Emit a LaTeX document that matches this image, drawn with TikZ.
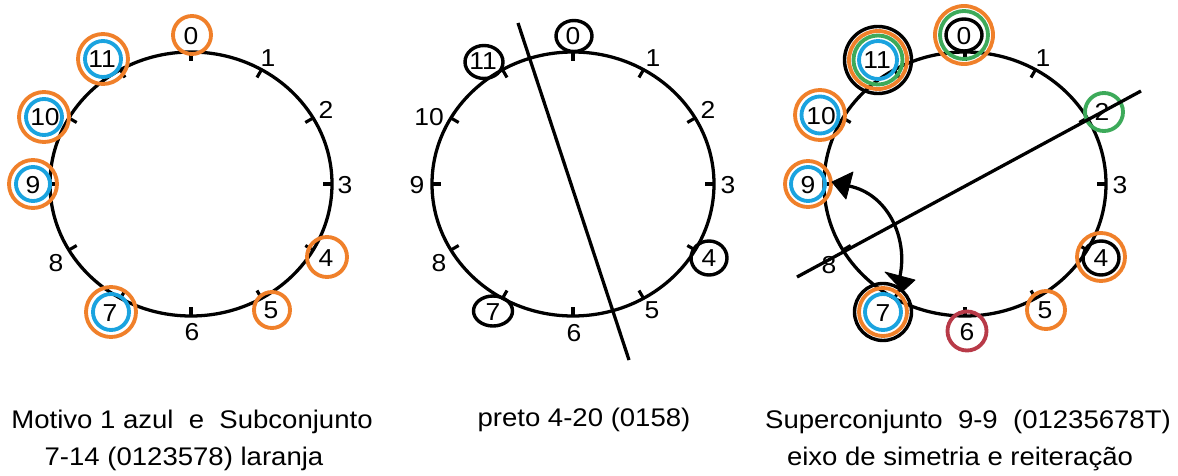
\documentclass[tikz,border=0pt]{standalone}
\usepackage{fontspec}
\setmainfont{Liberation Sans}[FakeStretch=1.08]
\definecolor{orng}{HTML}{F0802A}
\definecolor{blu}{HTML}{1AA3DF}
\definecolor{grn}{HTML}{3DAA5A}
\definecolor{rd}{HTML}{B83A48}
\tikzset{
  ring/.style={line width=1.35mm, draw},
  blkring/.style={line width=1.2mm, draw},
  lab/.style={inner sep=0pt, font=\fontsize{24.5}{28}\selectfont},
  captxt/.style={inner sep=0pt, anchor=base, font=\fontsize{25.5}{30}\selectfont},
  clockline/.style={line width=1.15mm},
  tickmark/.style={line width=1.1mm},
  headfill/.style={fill=black, draw=black, line width=0.8pt, line join=round},
}
\newcommand{\clockface}[3]{% cx cy prefix
  \draw[clockline] (#1,#2) ellipse [x radius=141pt, y radius=132pt];
  \foreach \h in {0,...,11}{
    \draw[tickmark] ({#1+141*sin(30*\h)},{#2-132*cos(30*\h)}) -- ({#1+132*sin(30*\h)},{#2-123*cos(30*\h)});
  }
}
\begin{document}
\begin{tikzpicture}[x=1pt,y=-1pt]
\path[use as bounding box, fill=white] (0,0) rectangle (1178,476);

% ---------- clock 1 ----------
\clockface{191}{184}{a}
\draw[ring, orng] (192,35) circle[radius=19pt];
\draw[ring, orng] (103,59) circle[radius=25pt];
\draw[ring, blu]  (103,59) circle[radius=18pt];
\draw[ring, orng] (44,117) circle[radius=25pt];
\draw[ring, blu]  (44,117) circle[radius=18pt];
\draw[ring, orng] (33,184) circle[radius=24pt];
\draw[ring, blu]  (33,184) circle[radius=17pt];
\draw[ring, orng] (111,312) circle[radius=25pt];
\draw[ring, blu]  (111,312) circle[radius=18pt];
\draw[ring, orng] (327,257) circle[radius=20pt];
\draw[ring, orng] (272,310) circle[radius=18pt];
\node[lab] (a0) at (191,36) {0};
\node[lab] (a1) at (268,58) {1};
\node[lab] (a2) at (326,110) {2};
\node[lab] (a3) at (345,185) {3};
\node[lab] (a4) at (326,258) {4};
\node[lab] (a5) at (271,310) {5};
\node[lab] (a6) at (192,332) {6};
\node[lab] (a7) at (110,313) {7};
\node[lab] (a8) at (56,263) {8};
\node[lab] (a9) at (33,185) {9};
\node[lab] (a10) at (45,117) {10};
\node[lab] (a11) at (102,59) {11};

% ---------- clock 2 ----------
\clockface{573}{184}{b}
\draw[blkring] (574,36) ellipse [x radius=18pt, y radius=15.5pt];
\draw[blkring] (484,62) ellipse [x radius=19pt, y radius=16.5pt];
\draw[blkring] (709,258) ellipse [x radius=18pt, y radius=17pt];
\draw[blkring] (493,311) ellipse [x radius=19.5pt, y radius=15pt];
\node[lab] (b0) at (573,36) {0};
\node[lab] (b1) at (653,58) {1};
\node[lab] (b2) at (708,110) {2};
\node[lab] (b3) at (728,185) {3};
\node[lab] (b4) at (709,258) {4};
\node[lab] (b5) at (652,310) {5};
\node[lab] (b6) at (574,333) {6};
\node[lab] (b7) at (493,312) {7};
\node[lab] (b8) at (439,263) {8};
\node[lab] (b9) at (417,185) {9};
\node[lab] (b10) at (429,117) {10};
\node[lab] (b11) at (483,61) {11};
\coordinate (bax1) at (518,23);
\coordinate (bax2) at (629,360);
\draw[clockline] (bax1) -- (bax2);

% ---------- clock 3 ----------
\clockface{965}{184}{c}
\draw[ring, orng] (964,35) circle[radius=29pt];
\draw[ring, grn]  (964,35) circle[radius=24pt];
\draw[blkring] (964,35) ellipse [x radius=18pt, y radius=16pt];
\draw[blkring] (878,60) circle[radius=33.5pt];
\draw[ring, orng] (878,60) circle[radius=29pt];
\draw[ring, grn]  (878,60) circle[radius=24.5pt];
\draw[ring, blu]  (878,60) circle[radius=19pt];
\draw[ring, orng] (820,115) circle[radius=25pt];
\draw[ring, blu]  (820,115) circle[radius=18.5pt];
\draw[ring, orng] (808,184) circle[radius=23pt];
\draw[ring, blu]  (808,184) circle[radius=17pt];
\draw[ring, grn]  (1104,112) circle[radius=19pt];
\draw[ring, orng] (1101,257) circle[radius=24pt];
\draw[blkring] (1101,258) ellipse [x radius=18pt, y radius=17pt];
\draw[ring, orng] (1046,310) circle[radius=19pt];
\draw[ring, rd]   (967,331) circle[radius=19.5pt];
\draw[blkring] (883,312) circle[radius=28.5pt];
\draw[ring, orng] (883,312) circle[radius=24pt];
\draw[ring, blu]  (883,312) circle[radius=18pt];
\node[lab] (c0) at (964,36) {0};
\node[lab] (c1) at (1043,58) {1};
\node[lab] (c2) at (1102,112) {2};
\node[lab] (c3) at (1120,185) {3};
\node[lab] (c4) at (1101,258) {4};
\node[lab] (c5) at (1045,310) {5};
\node[lab] (c6) at (967,332) {6};
\node[lab] (c7) at (883,313) {7};
\node[lab] (c8) at (829,265) {8};
\node[lab] (c9) at (808,185) {9};
\node[lab] (c10) at (821,116) {10};
\node[lab] (c11) at (877,60) {11};
\coordinate (cax1) at (797,277);
\coordinate (cax2) at (1141,91);
\draw[clockline] (cax1) -- (cax2);
% double-headed curved arrow 9 <-> 7
\coordinate (tip9) at (832,182);
\coordinate (base9) at (849,186);
\coordinate (tip7) at (903,291);
\coordinate (base7) at (900,276);
\draw[clockline] (base9) .. controls (888,194) and (908,238) .. (base7);
\filldraw[headfill] (tip9) -- (853,172) -- (846,199) -- cycle;
\filldraw[headfill] (tip7) -- (885,272) -- (915,280) -- cycle;

% ---------- captions ----------
\node[captxt] (t1) at (192,428) {Motivo 1 azul\ \ e\ \ Subconjunto};
\node[captxt] (t2) at (184,465) {7-14 (0123578) laranja};
\node[captxt] (t3) at (584,426) {preto 4-20 (0158)};
\node[captxt] (t4) at (968,428) {Superconjunto\ \ 9-9\ \ (01235678T)};
\node[captxt] (t5) at (960,465) {eixo de simetria e reiteração};
\end{tikzpicture}
\end{document}
